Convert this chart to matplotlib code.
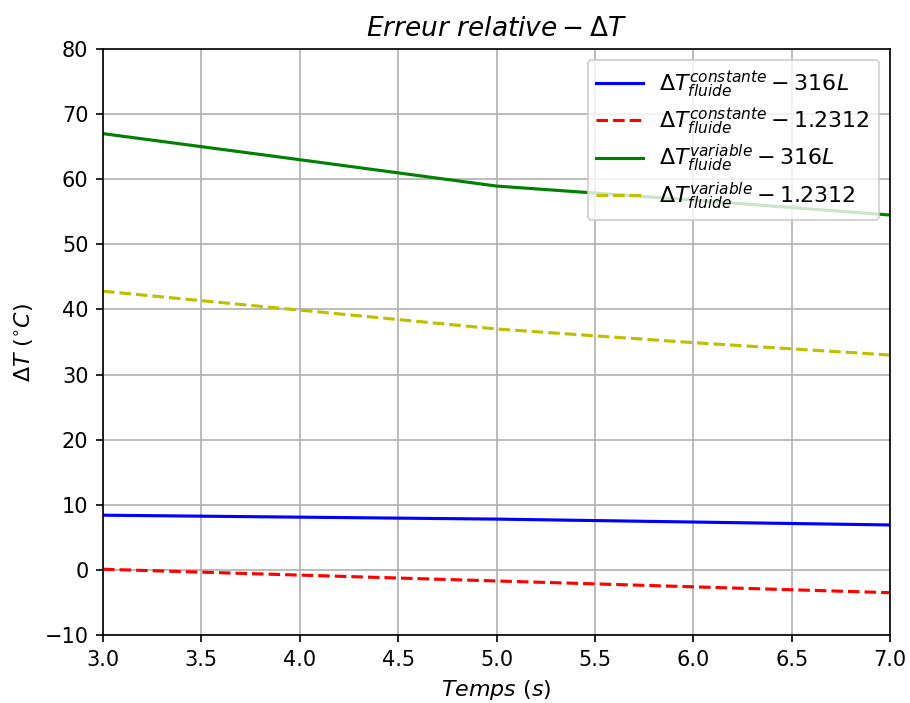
import matplotlib
matplotlib.use("Agg")
import matplotlib.pyplot as plt

temps = [3.0, 4.0, 5.0, 6.0, 7.0]
cst_316L = [8.4, 8.1, 7.8, 7.35, 6.9]
cst_12312 = [0.1, -0.8, -1.7, -2.6, -3.5]
var_316L = [67.0, 63.0, 58.95, 56.8, 54.5]
var_12312 = [42.8, 39.9, 37.0, 34.9, 33.0]

fig = plt.figure(figsize=(910/150, 703/150), dpi=150)
ax = fig.add_axes([103/910, 1-635/703, (890-103)/910, (635-49)/703])

ax.plot(temps, cst_316L, 'b-', label=r'$\Delta T_{fluide}^{constante} - 316L$')
ax.plot(temps, cst_12312, 'r--', label=r'$\Delta T_{fluide}^{constante} - 1.2312$')
ax.plot(temps, var_316L, 'g-', label=r'$\Delta T_{fluide}^{variable} - 316L$')
ax.plot(temps, var_12312, 'y--', label=r'$\Delta T_{fluide}^{variable} - 1.2312$')

ax.set_xlim(3, 7)
ax.set_ylim(-10, 80)
ax.grid(True)
ax.set_title(r'$Erreur\ relative - \Delta T$', fontsize=12.7)
ax.set_xlabel(r'$Temps\ (s)$', fontsize=10.6)
ax.set_ylabel(r'$\Delta T\ (^{\circ}C)$', fontsize=10.6)
ax.legend(loc='upper right', fontsize=10.6, labelspacing=0.28,
          handlelength=2.1, handletextpad=0.75, borderaxespad=0.5)

fig.savefig('out.png', dpi=150)
